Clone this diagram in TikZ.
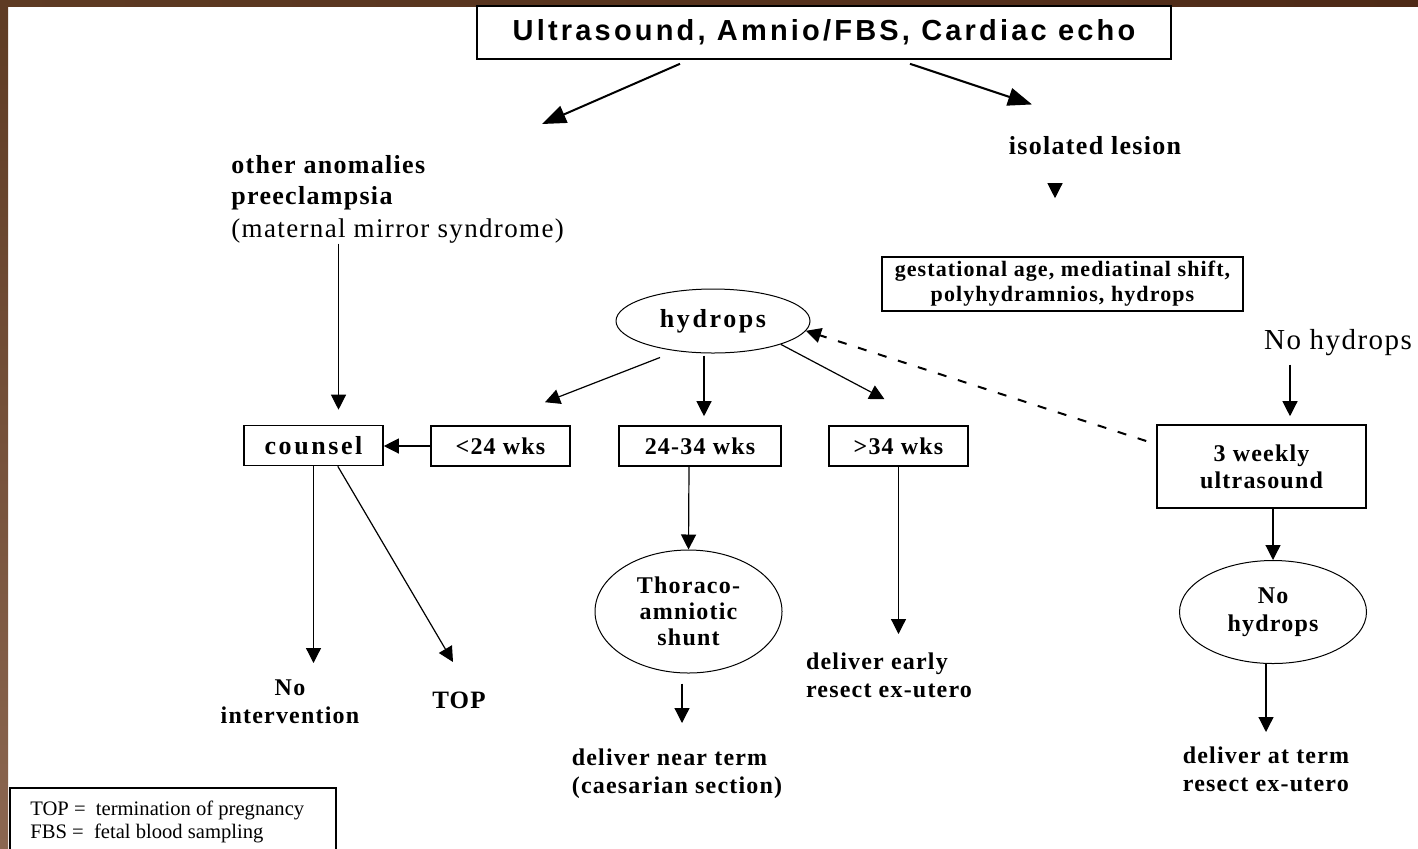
\documentclass[tikz,border=0pt]{standalone}
\usepackage{fontspec}
\setmainfont{Liberation Serif}[LetterSpace=5]
\newfontfamily\widefont{Liberation Serif}[LetterSpace=10]
\newfontfamily\plainfont{Liberation Serif}
\newfontfamily\headfont{Liberation Sans}[LetterSpace=11]
\usetikzlibrary{positioning, arrows.meta, shapes.geometric, calc}
\definecolor{frameA}{HTML}{5E3B23}
\definecolor{frameB}{HTML}{8B6650}
\definecolor{frameC}{HTML}{4E2A17}

\begin{document}
\begin{tikzpicture}[
    x=0.5pt, y=-0.5pt,
    box/.style={draw, line width=0.8pt, inner sep=0pt, align=center,
        font=\fontsize{12}{13.5}\selectfont\bfseries},
    oval/.style={draw, ellipse, line width=0.5pt, inner sep=0pt, align=center,
        font=\fontsize{12}{13.5}\selectfont\bfseries},
    txt/.style={inner sep=0pt, align=left, font=\fontsize{12}{14}\selectfont\bfseries},
    arr/.style={-{Triangle[length=7.5pt, width=7.5pt]}, line width=0.6pt},
    bigarr/.style={-{Triangle[length=12pt, width=9pt]}, line width=1pt},
    dashline/.style={dash pattern=on 4.5pt off 6pt, line width=1pt},
]
\useasboundingbox (0,0) rectangle (1418,848);
\fill[white] (0,0) rectangle (1418,848);
\shade[left color=frameA, right color=frameC] (0,0) rectangle (1418,6);
\shade[top color=frameA, bottom color=frameB] (0,0) rectangle (8,848);

\node[box, minimum width=347pt, minimum height=26.5pt,
      font=\fontsize{14.5}{16}\selectfont\headfont\bfseries] (head) at (824,32.5)
    {Ultrasound, Amnio/FBS, Cardiac echo};

\node[txt, anchor=north west, font=\fontsize{13}{15.5}\selectfont] (oth) at (231,155)
    {\textbf{other anomalies}\\\textbf{preeclampsia}\\[1pt]
     {\fontsize{13.5}{16}\selectfont (maternal mirror syndrome)}};
\node[txt, font=\fontsize{13}{15}\selectfont\bfseries] (iso) at (1095,146) {isolated lesion};
\node[box, minimum width=180.5pt, minimum height=27pt,
      font=\fontsize{11}{12.5}\selectfont\bfseries] (gest) at (1062.5,284)
    {gestational age, mediatinal shift,\\polyhydramnios, hydrops};
\node[txt, font=\fontsize{14.5}{16}\selectfont] (noh) at (1338,343) {No hydrops};

\node[oval, minimum width=97pt, minimum height=32pt,
      font=\fontsize{13}{15}\selectfont\widefont\bfseries] (hyd) at (713,321) {hydrops};

\node[box, minimum width=69.5pt, minimum height=20pt,
      font=\fontsize{13}{15}\selectfont\widefont\bfseries] (coun) at (313.5,445.5)
    {\raisebox{-3.5pt}{counsel}};
\node[box, minimum width=69.5pt, minimum height=20pt] (lt24) at (500.5,446) {<24 wks};
\node[box, minimum width=81pt, minimum height=20pt] (mid) at (700,446) {24-34 wks};
\node[box, minimum width=69.5pt, minimum height=20pt] (gt34) at (898.5,446) {>34 wks};
\node[box, minimum width=104.5pt, minimum height=41.5pt] (wk3) at (1261.5,466.5)
    {3 weekly\\ultrasound};

\node[oval, minimum width=93.5pt, minimum height=61.5pt, font=\fontsize{12}{13}\selectfont\bfseries]
    (thor) at (688.5,611.5) {Thoraco-\\amniotic\\shunt};
\node[oval, minimum width=93.5pt, minimum height=51.5pt, font=\fontsize{12}{14}\selectfont\bfseries]
    (noh2) at (1273,612) {No\\hydrops};

\node[txt, anchor=north, align=center] (noint) at (290,679) {No\\intervention};
\node[txt, anchor=north, font=\fontsize{12.5}{14}\selectfont\bfseries] (topn) at (459,692) {TOP};
\node[txt, anchor=north] (del) at (889,652) {deliver early\\resect ex-utero};
\node[txt, anchor=north] (dnt) at (677,748) {deliver near term\\(caesarian section)};
\node[txt, anchor=north] (dat) at (1266,746) {deliver at term\\resect ex-utero};

\draw[line width=0.8pt] (10,850) -- (10,788) -- (336,788) -- (336,850);
\node[txt, anchor=north west, font=\fontsize{10.3}{11.5}\selectfont\plainfont] (leg) at (30,801)
    {TOP =\ \ termination of pregnancy\\FBS =\ \ fetal blood sampling};

\draw[bigarr] ([xshift=-72pt,yshift=-2pt]head.south) -- ([xshift=155.5pt,yshift=15.5pt]oth.north west);
\draw[bigarr] ([xshift=43pt,yshift=-2pt]head.south) -- ([xshift=-31.5pt,yshift=16pt]iso.north);
\draw[arr] ([xshift=-20pt,yshift=-15pt]iso.south) -- ([xshift=-3.75pt,yshift=29pt]gest.north);
\draw[arr] ([xshift=-24pt,yshift=-4pt]noh.south) -- ([xshift=14.25pt,yshift=4pt]wk3.north);
\draw[arr] ([xshift=5.75pt]wk3.south) -- (noh2.north);
\draw[arr] ([xshift=-3.5pt]noh2.south) -- ([yshift=7pt]dat.north);
\draw[arr, dashline] ([xshift=-5pt,yshift=12.75pt]wk3.west) -- (hyd.-6);

\draw[arr] ([xshift=-26.5pt,yshift=-2pt]hyd.south) -- ([xshift=22.25pt,yshift=11.5pt]lt24.north);
\draw[arr] ([xshift=-4.5pt,yshift=-1pt]hyd.south) -- ([xshift=2pt,yshift=4.5pt]mid.north);
\draw[arr] (hyd.-19) -- ([xshift=-7pt,yshift=13pt]gt34.north);
\draw[arr] (lt24.west) -- (lt24.west -| coun.east);

\coordinate (ctip) at ([xshift=12.5pt,yshift=7.5pt]coun.north);
\draw[arr] (oth.south -| ctip) -- (ctip);
\draw[arr, shorten >=8pt] (coun.south) -- (coun.south |- noint.north);
\draw[arr] ([xshift=-23pt]coun.south east) -- ([xshift=-3pt,yshift=15pt]topn.north);
\draw[arr] ([xshift=-5.5pt]mid.south) -- (thor.north);
\draw[arr] ([xshift=-3.25pt,yshift=-5pt]thor.south) -- ([xshift=2.5pt,yshift=12.5pt]dnt.north);
\draw[arr, shorten >=9pt] (gt34.south) -- (gt34.south |- del.north);
\end{tikzpicture}
\end{document}
